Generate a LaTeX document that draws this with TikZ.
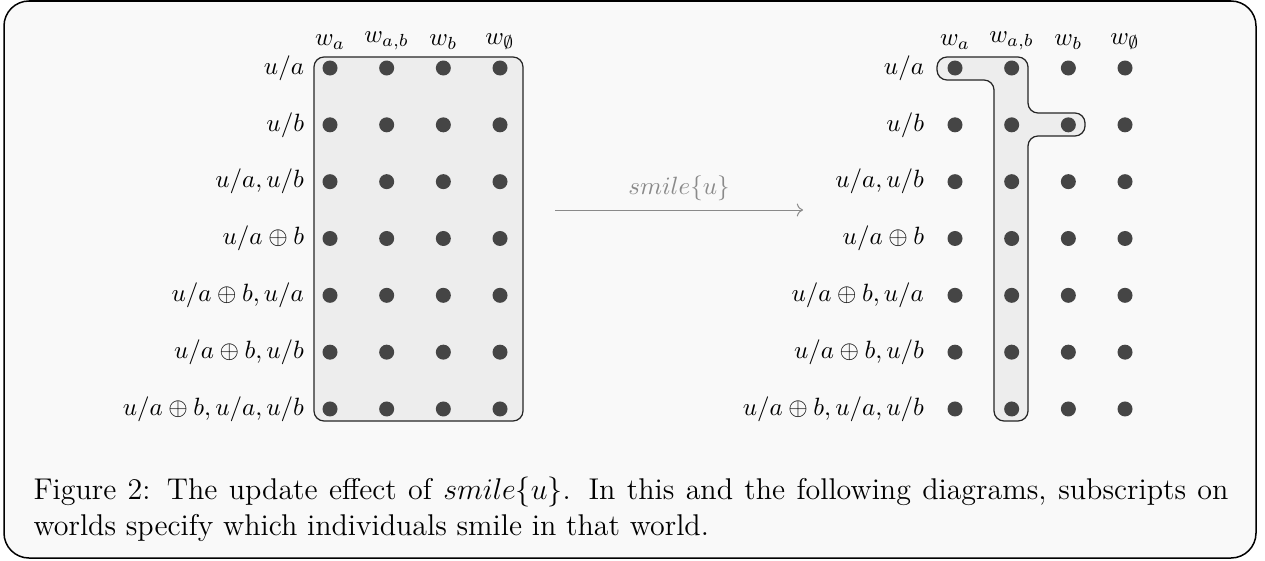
\documentclass[tikz,border=0pt]{standalone}
\usetikzlibrary{
    arrows.meta,
    positioning,
}
\definecolor{dotgray}{HTML}{454545}
\definecolor{boxfill}{HTML}{EDEDED}
\definecolor{framefill}{HTML}{F9F9F9}
\definecolor{arrowgray}{HTML}{8A8A8A}

\begin{document}
\begin{tikzpicture}[
        x=0.4pt, y=-0.4pt,
        world/.style={circle, fill=dotgray, inner sep=0pt, minimum size=6pt},
        rowlabel/.style={inner sep=0pt},
        colhead/.style={inner sep=0pt},
        region/.style={draw=black!85, fill=boxfill, line width=0.5pt,
            rounded corners=4pt},
    ]
    \useasboundingbox (0,0) rectangle (1265,560);
    \draw[fill=framefill, line width=0.6pt, rounded corners=10pt]
        (4,1) rectangle (1256,558);

    % the worlds that smile{u} keeps
    \draw[region] (314,57) rectangle (523,421);
    \draw[region] (937,57) -- (1028,57) -- (1028,113) -- (1085,113)
        -- (1085,136) -- (1028,136) -- (1028,421) -- (994,421)
        -- (994,80) -- (937,80) -- cycle;

    \foreach \lab [count=\r] in {{u/a}, {u/b}, {u/a, u/b}, {u/a\oplus b},
            {u/a\oplus b, u/a}, {u/a\oplus b, u/b},
            {u/a\oplus b, u/a, u/b}} {
        \pgfmathsetmacro\ry{68+56.83*(\r-1)}
        \foreach \c in {1,...,4} {
            \node[world] (L-\r-\c) at ({330+56.67*(\c-1)},\ry) {};
            \node[world] (R-\r-\c) at ({955+56.67*(\c-1)},\ry) {};
        }
        \node[rowlabel, left=7pt of L-\r-1] (lab-L-\r) {$\lab$};
        \node[rowlabel, left=9pt of R-\r-1] (lab-R-\r) {$\lab$};
    }

    \foreach \w [count=\c] in {a, {a,b}, b, \emptyset} {
        \node[colhead, above=4pt of L-1-\c] (head-L-\c) {$w_{\w}$};
        \node[colhead, above=4pt of R-1-\c] (head-R-\c) {$w_{\w}$};
    }

    \coordinate (upd-s) at (555,210);
    \coordinate (upd-e) at (803,210);
    \draw[->, arrowgray] (upd-s) -- node[above, text=arrowgray] {$smile\{u\}$} (upd-e);

    \node[anchor=north west, inner sep=0pt, text width=478pt, align=justify,
        font=\fontsize{12}{14.5}\selectfont] (caption) at (33,476)
        {Figure 2: The update effect of $smile\{u\}$. In this and the following
        diagrams, subscripts on worlds specify which individuals smile in that world.};
\end{tikzpicture}
\end{document}
